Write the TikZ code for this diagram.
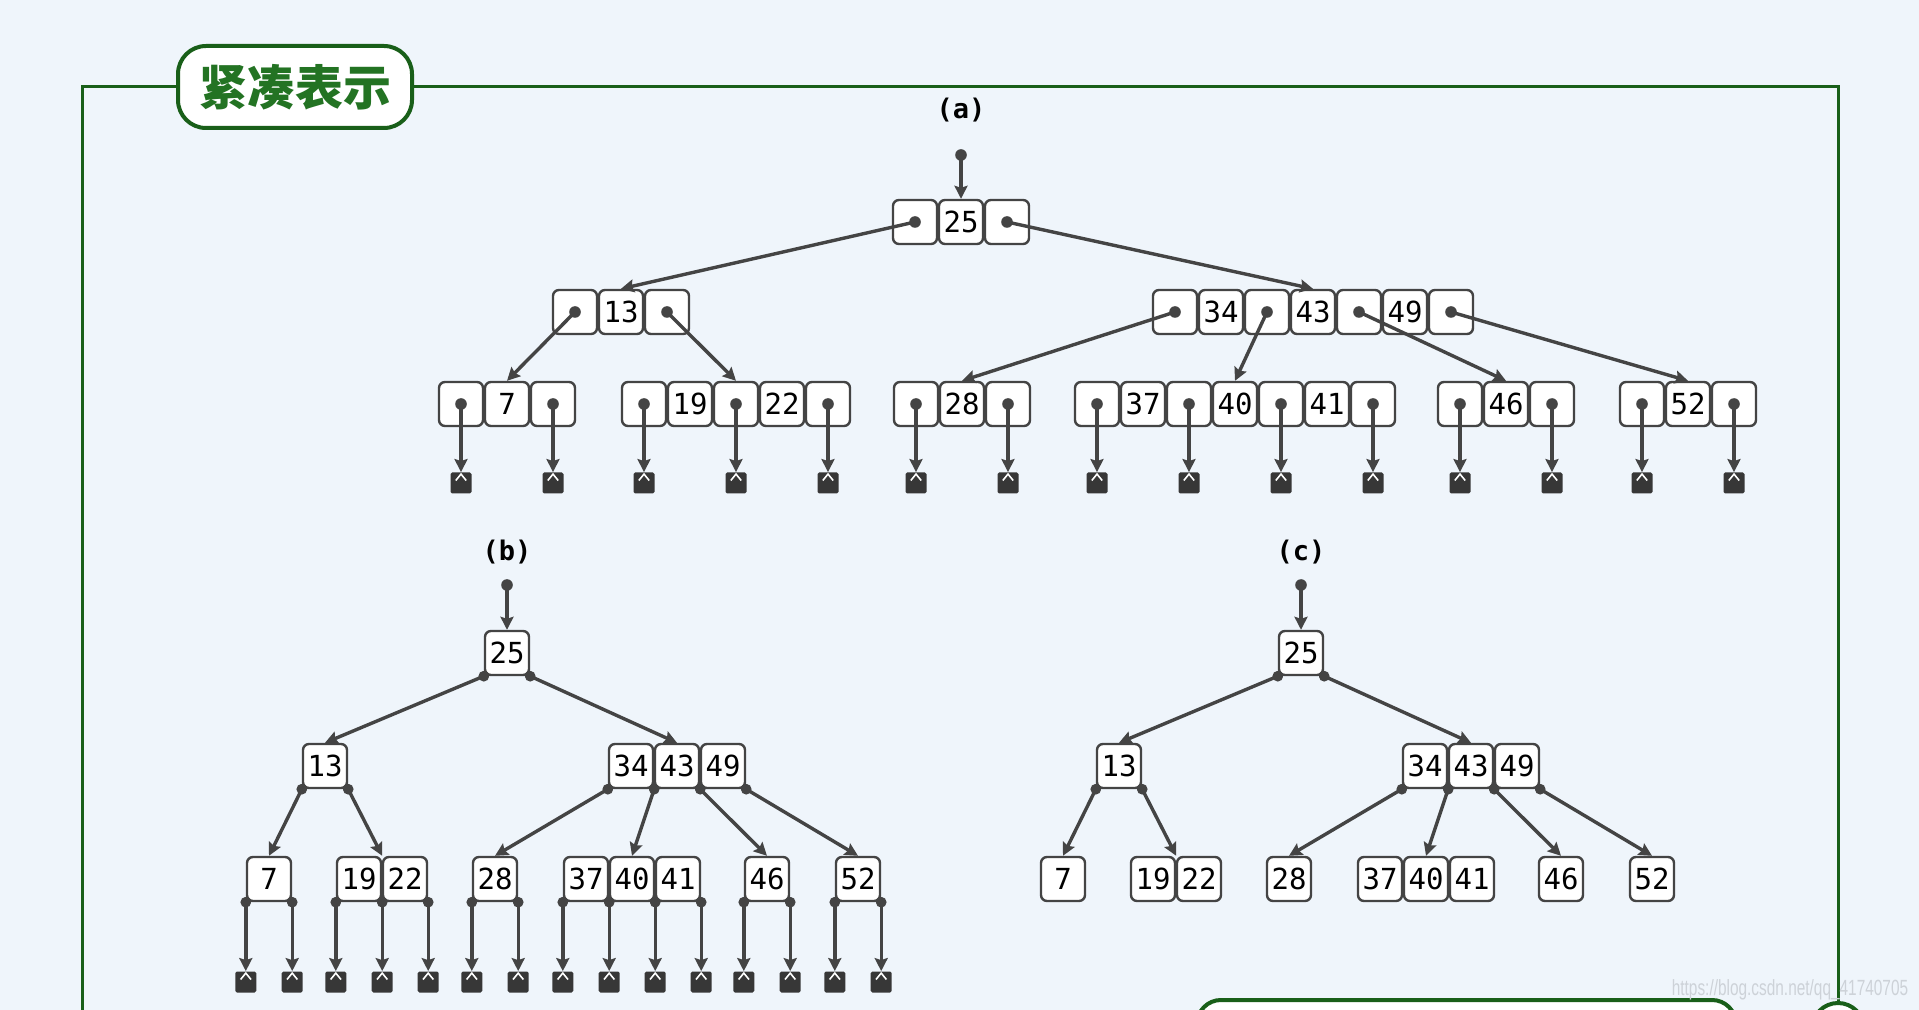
\documentclass[tikz,border=0pt]{standalone}
\usepackage{fontspec}
\setmonofont{DejaVu Sans Mono}
\newfontfamily\cjk{Noto Sans CJK SC}
\newfontfamily\wmfont{Liberation Sans}
\usetikzlibrary{arrows.meta,calc}

\definecolor{bgblue}{RGB}{239,245,251}
\definecolor{framegreen}{RGB}{25,95,25}
\definecolor{titlegreen}{RGB}{35,115,35}
\definecolor{linegray}{RGB}{68,68,68}
\definecolor{nilgray}{RGB}{55,55,55}
\definecolor{markgray}{RGB}{205,210,216}

\tikzset{
  cell/.style={draw=linegray, fill=white, line width=1.2pt, rounded corners=3pt,
    minimum width=22pt, minimum height=22pt, inner sep=0pt,
    font=\ttfamily\fontsize{14.5}{15}\selectfont},
  nil/.style={fill=nilgray, minimum size=10.5pt, inner sep=0pt, rounded corners=0.8pt,
    path picture={\draw[white, line width=0.8pt, rounded corners=0pt]
      ([xshift=-2.6pt,yshift=-4pt]path picture bounding box.north) --
      ([yshift=-0.8pt]path picture bounding box.north) --
      ([xshift=2.6pt,yshift=-4pt]path picture bounding box.north);}},
  ptr/.style={draw=linegray, line width=1.7pt, -{Stealth[length=6.5pt,width=6.5pt,inset=1pt]}},
  caption/.style={font=\ttfamily\bfseries\fontsize{13.5}{14}\selectfont},
  frame/.style={draw=framegreen, line width=1.5pt},
  titlebox/.style={draw=framegreen, line width=2pt, fill=white, rounded corners=14pt,
    minimum width=117pt, minimum height=41pt, text=titlegreen,
    font=\cjk\bfseries\fontsize{24}{26}\selectfont}
}

% node of tree (a): pointer cells between the keys
\newcommand{\fullnode}[4]{% name, x of first pointer, y, keys
  \node[cell] (#1p0) at (#2,#3) {};
  \fill[linegray] (#1p0.center) circle (2.9pt);
  \foreach \k [count=\i] in {#4} {
    \node[cell] (#1k\i) at ({#2+92*\i-46},#3) {\k};
    \node[cell] (#1p\i) at ({#2+92*\i},#3) {};
    \fill[linegray] (#1p\i.center) circle (2.9pt);
  }
}
% empty subtrees below a node of tree (a)
\newcommand{\nils}[2]{%
  \foreach \i in {0,...,#2} {
    \node[nil] (#1n\i) at (#1p\i |- 0,483) {};
    \draw[ptr] (#1p\i.center) -- (#1n\i.north);
  }
}
% trees (b) and (c)
\newcommand{\compacttree}[1]{%
  \coordinate (#1top) at (507,585);
  \node[cell] (#1r25) at (507,653) {25};
  \node[cell] (#1n13) at (325,766) {13};
  \node[cell] (#1n34) at (631,766) {34};
  \node[cell] (#1n43) at (677,766) {43};
  \node[cell] (#1n49) at (723,766) {49};
  \node[cell] (#1n7)  at (269,879) {7};
  \node[cell] (#1n19) at (359,879) {19};
  \node[cell] (#1n22) at (405,879) {22};
  \node[cell] (#1n28) at (495,879) {28};
  \node[cell] (#1n37) at (586,879) {37};
  \node[cell] (#1n40) at (632,879) {40};
  \node[cell] (#1n41) at (678,879) {41};
  \node[cell] (#1n46) at (767,879) {46};
  \node[cell] (#1n52) at (858,879) {52};
  \fill[linegray] (#1top) circle (2.9pt);
  \draw[ptr] (#1top) -- (#1r25.north);
  \foreach \src/\dst in {r25.south west/n13.north, r25.south east/n43.north,
      n13.south west/n7.north, n13.south east/n19.north east,
      n34.south west/n28.north, n34.south east/n40.north,
      n43.south east/n46.north, n49.south east/n52.north} {
    \fill[linegray] (#1\src) circle (2.7pt);
    \draw[ptr] (#1\src) -- (#1\dst);
  }
}

\begin{document}
\begin{tikzpicture}[x=0.5pt, y=-0.5pt]
\useasboundingbox (0,0) rectangle (1919,1010);
\clip (0,0) rectangle (1919,1010);
\fill[bgblue] (0,0) rectangle (1919,1010);

% frame and title
\draw[frame] (82,1030) -- (82,87) -- (1838,87) -- (1838,1030);
\node[titlebox] (title) at (295,87) {紧凑表示};
\draw[framegreen, line width=2pt, fill=white, rounded corners=12pt] (1197,1000) rectangle (1736,1080);
\draw[framegreen, line width=2pt, fill=white] (1838,1029) circle (13pt);
\node[text=markgray, font=\wmfont\fontsize{11}{12}\selectfont] (mark) at (1790,990)
  {\scalebox{0.7}[1]{https://blog.csdn.net/qq\_41740705}};

% (a)
\node[caption] (capa) at (961,110) {(a)};
\coordinate (atop) at (961,155);
\fullnode{a25}{915}{222}{25}
\fullnode{a13}{575}{312}{13}
\fullnode{a34}{1175}{312}{34,43,49}
\fullnode{a7}{461}{404}{7}
\fullnode{a19}{644}{404}{19,22}
\fullnode{a28}{916}{404}{28}
\fullnode{a37}{1097}{404}{37,40,41}
\fullnode{a46}{1460}{404}{46}
\fullnode{a52}{1642}{404}{52}
\fill[linegray] (atop) circle (2.9pt);
\draw[ptr] (atop) -- (a25k1.north);
\draw[ptr] (a25p0.center) -- (a13k1.north);
\draw[ptr] (a25p1.center) -- (a34k2.north);
\draw[ptr] (a13p0.center) -- (a7k1.north);
\draw[ptr] (a13p1.center) -- (a19p1.north);
\draw[ptr] (a34p0.center) -- (a28k1.north);
\draw[ptr] (a34p1.center) -- (a37k2.north);
\draw[ptr] (a34p2.center) -- (a46k1.north);
\draw[ptr] (a34p3.center) -- (a52k1.north);
\nils{a7}{1}
\nils{a19}{2}
\nils{a28}{1}
\nils{a37}{3}
\nils{a46}{1}
\nils{a52}{1}

% (b)
\node[caption] (capb) at (507,552) {(b)};
\compacttree{b}
\foreach \src [count=\i] in {n7.south west, n7.south east, n19.south west, n19.south east,
    n22.south east, n28.south west, n28.south east, n37.south west, n37.south east,
    n40.south east, n41.south east, n46.south west, n46.south east,
    n52.south west, n52.south east} {
  \node[nil] (bnil\i) at (b\src |- 0,982) {};
  \fill[linegray] (b\src) circle (2.7pt);
  \draw[ptr] (b\src) -- (bnil\i.north);
}

% (c)
\node[caption] (capc) at (1301,552) {(c)};
\begin{scope}[shift={(794,0)}]
\compacttree{c}
\end{scope}
\end{tikzpicture}
\end{document}
